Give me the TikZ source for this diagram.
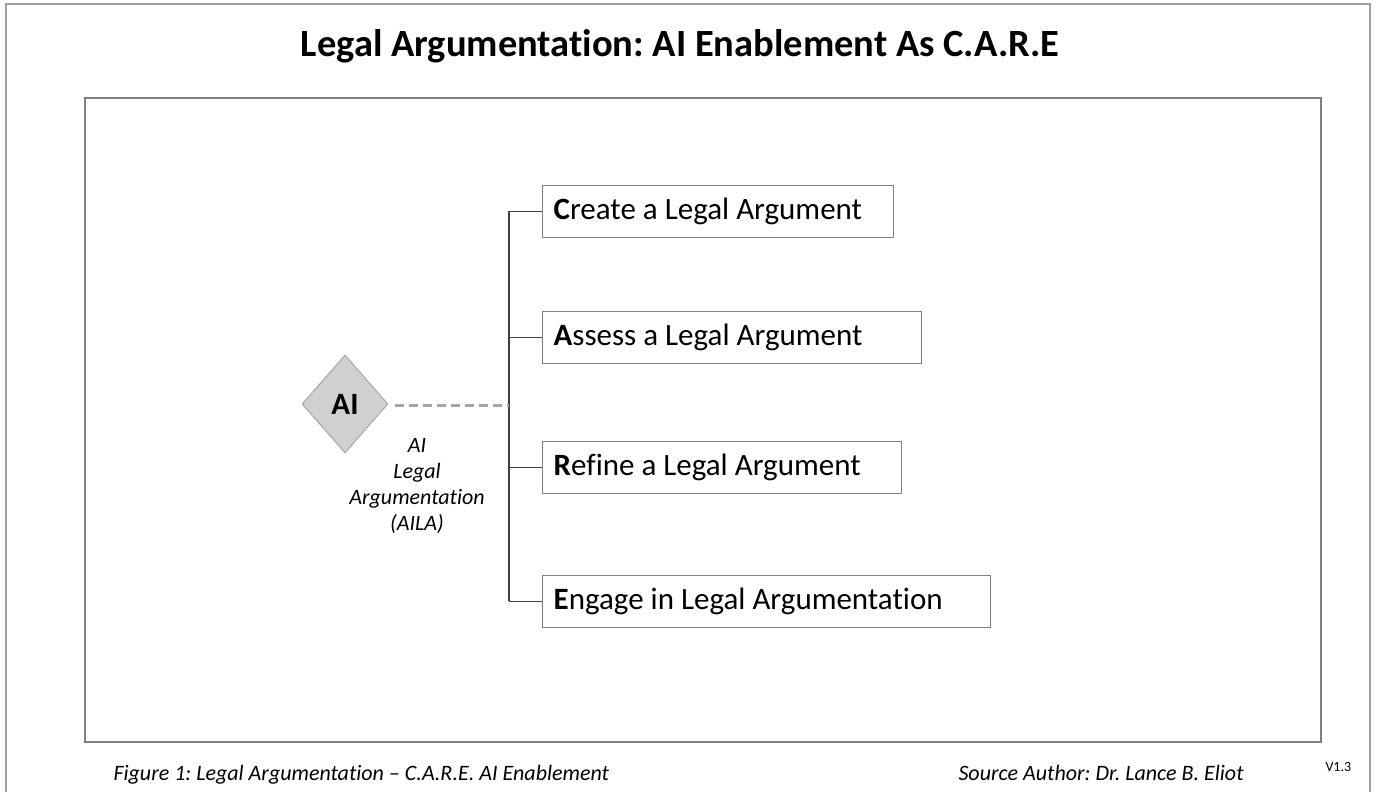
\documentclass[tikz,border=0pt]{standalone}
\usepackage{fontspec}
\setmainfont{Carlito}[Ligatures=CommonOff]
\usetikzlibrary{shapes.geometric}
\newcommand\natspaces{\spaceskip=0pt\xspaceskip=0pt\relax}
\definecolor{framegray}{HTML}{A0A0A0}
\definecolor{boxgray}{HTML}{7F7F7F}
\definecolor{dashgray}{HTML}{A6A6A6}
\definecolor{aifill}{HTML}{D0D0D0}
\tikzset{
  carebox/.style={draw=boxgray, line width=1.3pt, anchor=north west, minimum height=52pt,
    inner xsep=11pt, inner ysep=0pt, align=left, font=\fontsize{31}{34}\selectfont},
  branch/.style={draw=black!75, line width=1.1pt},
  italabel/.style={font=\fontsize{22}{26}\selectfont\itshape, align=center},
  footer/.style={font=\fontsize{22}{26}\selectfont\itshape, anchor=base west},
}
\begin{document}
\frenchspacing
\begin{tikzpicture}[x=1pt,y=-1pt]
\useasboundingbox (0,0) rectangle (1378,792);
\fill[white] (0,0) rectangle (1378,792);
% outer frame
\draw[framegray, line width=2pt] (6,812) -- (6,4) -- (1370,4) -- (1370,812);
% inner frame
\draw[boxgray, line width=1.5pt] (85,98) rectangle (1321,742);
% title
\node[font=\fontsize{38.5}{42}\selectfont\bfseries] (title) at (680,46) {Legal Argumentation: AI Enablement As C.A.R.E};
% boxes
\node[carebox, text width=329pt] (bC) at (542,185) {\natspaces\textbf{C}reate a Legal Argument};
\node[carebox, text width=357pt] (bA) at (542,311) {\natspaces\textbf{A}ssess a Legal Argument};
\node[carebox, text width=337pt] (bR) at (542,441) {\natspaces\textbf{R}efine a Legal Argument};
\node[carebox, text width=426pt] (bE) at (542,575) {\natspaces\textbf{E}ngage in Legal Argumentation};
% spine
\coordinate (st) at (509,211);
\coordinate (sb) at (509,601);
\draw[branch] (st) -- (sb);
\draw[branch] (bC.west) -- (bC.west -| st);
\draw[branch] (bA.west) -- (bA.west -| st);
\draw[branch] (bR.west) -- (bR.west -| st);
\draw[branch] (bE.west) -- (bE.west -| st);
% AI diamond
\node[diamond, draw=dashgray, fill=aifill, line width=1pt, minimum width=86pt, minimum height=98pt, inner sep=0pt,
  font=\fontsize{31}{34}\selectfont\bfseries] (ai) at (345,404) {AI};
\coordinate (dj) at (509,405);
\draw[dashgray, line width=3pt, dash pattern=on 9pt off 5pt, shorten <=6pt] (ai.east |- dj) -- (dj);
\node[italabel] (aila) at (417,486) {\natspaces AI\\Legal\\Argumentation\\(AILA)};
% footer
\node[footer] (fig) at (110,780) {Figure 1: Legal Argumentation -- C.A.R.E. AI Enablement};
\node[footer] (src) at (955,780) {Source Author: Dr. Lance B. Eliot};
\node[font=\fontsize{14}{16}\selectfont, anchor=west] (ver) at (1322,767) {V1.3};
\end{tikzpicture}
\end{document}
